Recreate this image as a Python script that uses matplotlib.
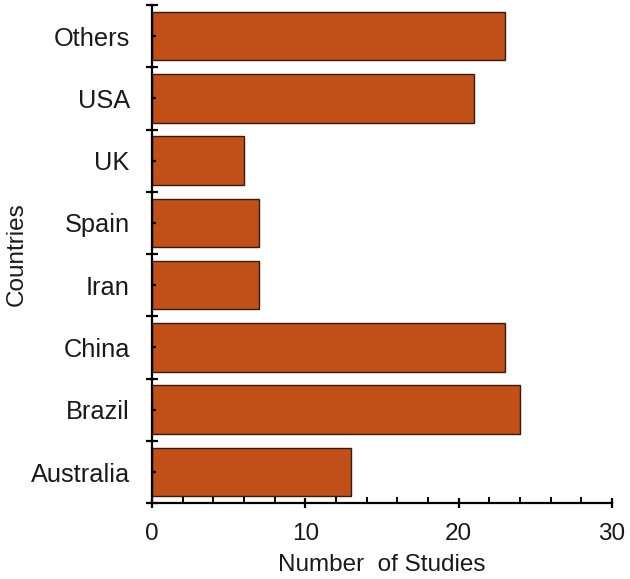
import matplotlib
matplotlib.use("Agg")
import matplotlib.pyplot as plt
from matplotlib.ticker import MultipleLocator, FixedLocator

plt.rcParams['font.family'] = ['Liberation Sans', 'DejaVu Sans']

# data (bottom to top)
countries = ["Australia", "Brazil", "China", "Iran", "Spain", "UK", "USA", "Others"]
studies = [13, 24, 23, 7, 7, 6, 21, 23]

fig = plt.figure(figsize=(6.3, 5.79), dpi=100)
ax = fig.add_axes([0.2413, 0.131, 0.7301, 0.8604])

pos = list(range(len(countries)))
ax.barh(pos, studies, height=0.78, color="#C05018", edgecolor="#3a1a0a", linewidth=1.0)

ax.set_xlim(0, 30)
ax.set_ylim(-0.5, len(countries) - 0.5)

ax.set_xticks([0, 10, 20, 30])
ax.xaxis.set_minor_locator(MultipleLocator(2))
ax.set_yticks(pos)
ax.set_yticklabels(countries)
ax.yaxis.set_minor_locator(FixedLocator([p - 0.5 for p in pos] + [len(pos) - 0.5]))

for s in ["top", "right"]:
    ax.spines[s].set_visible(False)
for s in ["left", "bottom"]:
    ax.spines[s].set_linewidth(1.6)

ax.tick_params(axis="x", which="major", direction="inout", length=7, width=1.6,
               labelsize=17.5, pad=11, labelcolor="#1a1a1a")
ax.tick_params(axis="x", which="minor", direction="in", length=4, width=1.4)
ax.tick_params(axis="y", which="major", direction="in", length=3, width=1.6,
               labelsize=18.3, pad=16, labelcolor="#1a1a1a")
ax.tick_params(axis="y", which="minor", direction="inout", length=8.5, width=1.6)

ax.set_xlabel("Number  of Studies", fontsize=17.5, labelpad=6, color="#1a1a1a")
ax.set_ylabel("Countries", fontsize=17.5, labelpad=2, color="#1a1a1a")

fig.savefig("out.png", dpi=100)
